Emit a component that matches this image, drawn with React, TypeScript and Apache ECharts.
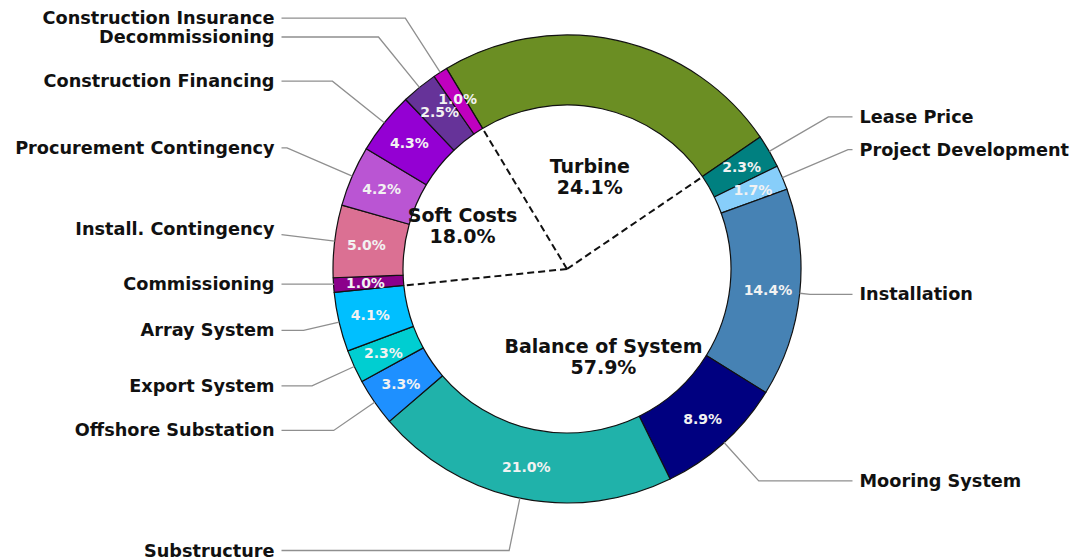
import React, { useEffect, useRef } from 'react';
import * as echarts from 'echarts';

// ---------- data ----------
const categories = [
  'Turbine',
  'Lease Price',
  'Project Development',
  'Installation',
  'Mooring System',
  'Substructure',
  'Offshore Substation',
  'Export System',
  'Array System',
  'Commissioning',
  'Install. Contingency',
  'Procurement Contingency',
  'Construction Financing',
  'Decommissioning',
  'Construction Insurance',
];
const shares = [24.1, 2.3, 1.7, 14.4, 8.9, 21.0, 3.3, 2.3, 4.1, 1.0, 5.0, 4.2, 4.3, 2.5, 1.0];
const colors = [
  '#6B8E23', '#008080', '#87CEFA', '#4682B4', '#000080', '#20B2AA', '#1E90FF',
  '#00CED1', '#00BFFF', '#8B008B', '#DB7093', '#BA55D3', '#9400D3', '#663399', '#BF00BF',
];
// slices whose name / percentage is drawn (the turbine slice carries none)
const labelled = [false, true, true, true, true, true, true, true, true, true, true, true, true, true, true];
const groupNames = ['Turbine', 'Balance of System', 'Soft Costs'];
const groupShares = [24.1, 57.9, 18.0];

// ---------- layout ----------
const W = 1076;
const H = 560;
const CX = 567;
const CY = 269;
const R_OUT = 234;
const R_IN = 164;
const START = 121;
const LABEL_K = 1.25;
const LABEL_DY = -5;
const LINE_GAP = 7;
const GROUP_LABEL_R = [0.58, 0.58, 0.69];
const GROUP_LABEL_DA = [-1.5, 2.5, 4];
const FONT = '"DejaVu Sans", "Noto Sans", sans-serif';

const total = shares.reduce((a, b) => a + b, 0);
const midAngles: number[] = [];
{
  let a = START;
  shares.forEach((v) => {
    const span = (v / total) * 360;
    midAngles.push(a - span / 2);
    a -= span;
  });
}

const gTotal = groupShares.reduce((a, b) => a + b, 0);
const groupBounds: number[] = [];
const groupMids: number[] = [];
{
  let a = START;
  groupShares.forEach((v) => {
    const span = (v / gTotal) * 360;
    groupBounds.push(a);
    groupMids.push(a - span / 2);
    a -= span;
  });
}

const rad = (d: number) => (d * Math.PI) / 180;

function nameLayout(params: any) {
  const i = params.dataIndex;
  const m = rad(midAngles[i]);
  const c = Math.cos(m);
  const s = Math.sin(m);
  const side = c >= 0 ? 1 : -1;
  const ex = CX + R_OUT * c;
  const ey = CY - R_OUT * s;
  const ty = CY + LABEL_DY - LABEL_K * R_OUT * s;
  const tx = CX + side * LABEL_K * R_OUT;
  const endX = tx - side * LINE_GAP;
  let t = Math.abs(s) > 1e-6 ? (ey - ty) / s : 0;
  if (t < 0) t = 0;
  const cornerX = ex + t * c;
  let pts: number[][];
  if (side * (cornerX - endX) > 0) {
    // corner falls behind the text: the radial leg is cut at the text's edge
    const t2 = (endX - ex) / c;
    const p = [endX, ey - t2 * s];
    pts = [[ex, ey], p, p];
  } else {
    pts = [[ex, ey], [cornerX, ty], [endX, ty]];
  }
  return {
    x: tx,
    y: ty,
    align: side > 0 ? 'left' : 'right',
    verticalAlign: 'middle',
    hideOverlap: false,
    labelLinePoints: pts,
  };
}

export default function App() {
  const ref = useRef<HTMLDivElement>(null);

  useEffect(() => {
    if (!ref.current) return;
    const chart = echarts.init(ref.current, null, { renderer: 'svg' });

    const dataA = categories.map((n, i) => ({
      name: n,
      value: shares[i],
      itemStyle: { color: colors[i] },
      label: { show: labelled[i] },
    }));
    const dataB = categories.map((n, i) => ({
      name: n,
      value: shares[i],
      itemStyle: { color: 'rgba(0,0,0,0)', borderWidth: 0 },
      label: { show: labelled[i] },
      labelLine: { show: labelled[i] },
    }));

    const graphics: any[] = [];
    groupBounds.forEach((b) => {
      const a = rad(b);
      graphics.push({
        type: 'line',
        silent: true,
        z: 10,
        shape: { x1: CX, y1: CY, x2: CX + R_IN * Math.cos(a), y2: CY - R_IN * Math.sin(a) },
        style: { stroke: '#111', lineWidth: 2, lineDash: [7, 4] },
      });
    });
    groupMids.forEach((gm, i) => {
      const a = rad(gm + GROUP_LABEL_DA[i]);
      const d = GROUP_LABEL_R[i] * R_IN;
      graphics.push({
        type: 'text',
        silent: true,
        z: 11,
        x: CX + d * Math.cos(a),
        y: CY - d * Math.sin(a),
        style: {
          text: `${groupNames[i]}\n${groupShares[i].toFixed(1)}%`,
          fill: '#111',
          fontSize: 19,
          fontWeight: 'bold',
          fontFamily: FONT,
          lineHeight: 21,
          align: 'center',
          verticalAlign: 'middle',
          textAlign: 'center',
          textVerticalAlign: 'middle',
        },
      });
    });

    chart.setOption({
      animation: false,
      backgroundColor: '#ffffff',
      graphic: graphics,
      series: [
        {
          type: 'pie',
          name: 'slices',
          center: [CX, CY],
          radius: [R_IN, R_OUT],
          startAngle: START,
          clockwise: true,
          silent: true,
          avoidLabelOverlap: false,
          minShowLabelAngle: 0,
          itemStyle: { borderColor: '#111', borderWidth: 1.2 },
          label: {
            show: true,
            position: 'inside',
            formatter: (p: any) => `${shares[p.dataIndex].toFixed(1)}%`,
            color: '#f2f2f2',
            fontSize: 14,
            fontWeight: 'bold',
            fontFamily: FONT,
          },
          labelLayout: { hideOverlap: false },
          labelLine: { show: false },
          emphasis: { disabled: true },
          data: dataA,
          z: 2,
        },
        {
          type: 'pie',
          name: 'names',
          center: [CX, CY],
          radius: [R_IN, R_OUT],
          startAngle: START,
          clockwise: true,
          silent: true,
          avoidLabelOverlap: false,
          label: {
            show: true,
            position: 'outside',
            formatter: '{b}',
            color: '#111',
            fontSize: 17.7,
            fontWeight: 'bold',
            fontFamily: FONT,
          },
          labelLine: {
            show: true,
            length: 20,
            length2: 20,
            lineStyle: { color: '#8f8f8f', width: 1.3 },
          },
          labelLayout: nameLayout,
          emphasis: { disabled: true },
          data: dataB,
          z: 3,
        },
      ],
    });

    return () => chart.dispose();
  }, []);

  return (
    <div
      ref={ref}
      style={{ position: 'fixed', left: 0, top: 0, width: W, height: H, background: '#fff' }}
    />
  );
}
